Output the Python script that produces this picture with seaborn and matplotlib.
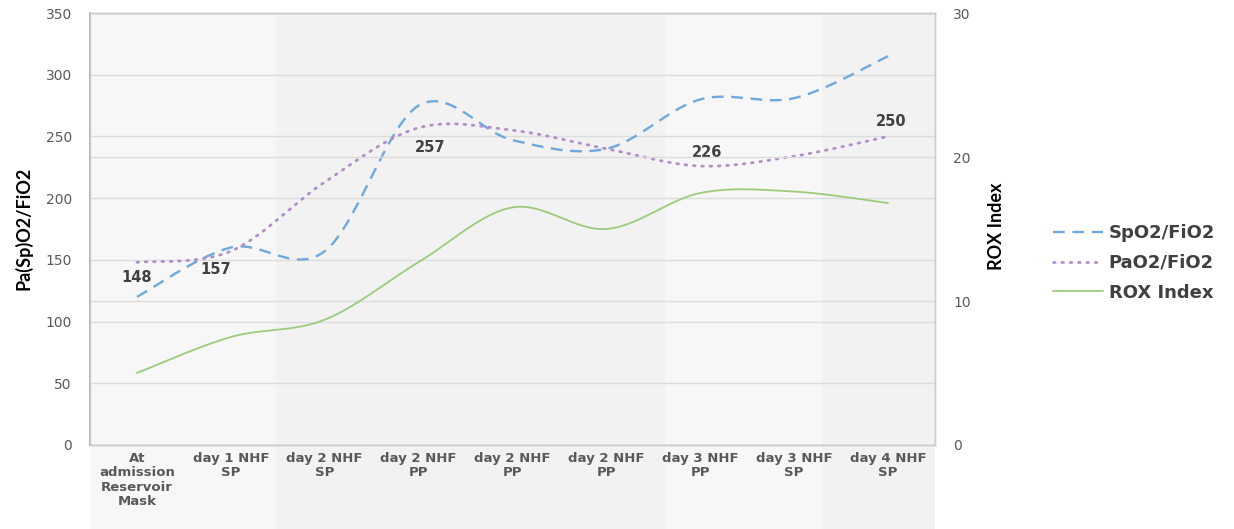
import numpy as np
import seaborn as sns
import matplotlib.pyplot as plt
from matplotlib.patches import Rectangle

# data
categories = ['At\nadmission\nReservoir\nMask', 'day 1 NHF\nSP', 'day 2 NHF\nSP',
              'day 2 NHF\nPP', 'day 2 NHF\nPP', 'day 2 NHF\nPP', 'day 3 NHF\nPP',
              'day 3 NHF\nSP', 'day 4 NHF\nSP']
spo2_fio2 = [120, 160, 157, 275, 247, 240, 280, 281, 315]
pao2_fio2 = [148, 157, 213, 257, 255, 240, 226, 234, 250]
rox_index = [5.0, 7.5, 8.7, 12.7, 16.5, 15.0, 17.5, 17.6, 16.8]
label_idx = [0, 1, 3, 6, 8]  # points with a value label on PaO2/FiO2
label_off = [(0, -11), (-11, -13), (8, -14), (5, 10), (2, 11)]

left_ticks = [0, 50, 100, 150, 200, 250, 300, 350]
right_ticks = [0, 10, 20, 30]


def smooth(vals, n=30):
    # excel-like smoothed line (catmull-rom bezier)
    p = np.column_stack([np.arange(len(vals)), vals]).astype(float)
    p = np.vstack([p[0], p, p[-1]])
    xs, ys = [], []
    t = np.linspace(0, 1, n)
    for i in range(1, len(p) - 2):
        a, b = p[i], p[i + 1]
        c1 = a + (p[i + 1] - p[i - 1]) / 6
        c2 = b - (p[i + 2] - p[i]) / 6
        seg = ((1 - t) ** 3)[:, None] * a + (3 * (1 - t) ** 2 * t)[:, None] * c1 \
            + (3 * (1 - t) * t ** 2)[:, None] * c2 + (t ** 3)[:, None] * b
        xs.extend(seg[:, 0]); ys.extend(seg[:, 1])
    return np.array(xs), np.array(ys)


sns.set_theme(style='white')
plt.rcParams['font.family'] = ['DejaVu Sans']

fig = plt.figure(figsize=(12.34, 5.29), dpi=100)
ax = fig.add_axes([0.0729, 0.1588, 0.6848, 0.8166])
ax.set_facecolor('none')
ax2 = ax.twinx()

# background bands (reach down under the x labels)
bands = [(0, 0.22, '#f7f7f7'), (0.22, 0.68, '#f2f2f2'), (0.68, 0.866, '#f7f7f7'), (0.866, 1, '#f2f2f2')]
for x0, x1, c in bands:
    ax.add_patch(Rectangle((x0, -0.195), x1 - x0, 1.195, transform=ax.transAxes,
                           facecolor=c, edgecolor='none', clip_on=False, zorder=-5))

xs, ys = smooth(spo2_fio2)
sns.lineplot(x=xs, y=ys, ax=ax, sort=False, estimator=None, color='#6fa8dc',
             lw=1.7, label='SpO2/FiO2', zorder=3)
ax.lines[-1].set_dashes([5, 3.2])
xs, ys = smooth(pao2_fio2)
sns.lineplot(x=xs, y=ys, ax=ax, sort=False, estimator=None, color='#b28fc9',
             lw=2.0, label='PaO2/FiO2', zorder=3)
ax.lines[-1].set_dashes([0.6, 2.4])
ax.lines[-1].set_dash_capstyle('round')
xs, ys = smooth(rox_index)
sns.lineplot(x=xs, y=ys, ax=ax2, sort=False, estimator=None, color='#9ccb7c',
             lw=1.3, label='ROX Index', zorder=3)

for i, (dx, dy) in zip(label_idx, label_off):
    ax.annotate(str(pao2_fio2[i]), (i, pao2_fio2[i]), xytext=(dx, dy),
                textcoords='offset points', ha='center', va='center',
                fontsize=10.5, fontweight='bold', color='#404040', zorder=5)

ax.set_xlim(-0.5, len(categories) - 0.5)
ax.set_ylim(0, 350)
ax2.set_ylim(0, 30)
ax.set_xticks(range(len(categories)))
ax.set_xticklabels(categories, fontsize=9.5, fontweight='bold', color='#595959',
                   linespacing=1.15)
ax.set_yticks(left_ticks)
ax.set_yticklabels([str(v) for v in left_ticks], fontsize=10, color='#595959')
ax2.set_yticks(right_ticks)
ax2.set_yticklabels([str(v) for v in right_ticks], fontsize=10, color='#595959')
ax.tick_params(axis='y', length=0, pad=13)
ax.tick_params(axis='x', length=0, pad=5)
ax2.tick_params(axis='y', length=0, pad=13)

ax.set_axisbelow(True)
ax.grid(axis='y', color='#dcdcdc', lw=1)
ax2.grid(axis='y', color='#dcdcdc', lw=1)
ax.grid(axis='x', visible=False)
for a in (ax, ax2):
    for s in a.spines.values():
        s.set_color('#cccccc')
        s.set_linewidth(1)
ax.spines['left'].set_color('#b0b0b0')
ax.spines['left'].set_linewidth(1.4)

ax.set_ylabel('Pa(Sp)O2/FiO2', fontsize=13, family='Lato', fontweight='bold', color='black')
ax.yaxis.set_label_coords(-0.068, 0.502)
ax2.set_ylabel('ROX Index', fontsize=13, family='Lato', fontweight='bold', color='black')
ax2.yaxis.set_label_coords(1.063, 0.507)

handles = ax.get_lines()[:2] + ax2.get_lines()[:1]
for a in (ax, ax2):
    if a.get_legend():
        a.get_legend().remove()
fig.legend(handles, ['SpO2/FiO2', 'PaO2/FiO2', 'ROX Index'], loc='center left',
           bbox_to_anchor=(0.84, 0.503), frameon=False,
           prop={'weight': 'bold', 'size': 13}, labelcolor='#404040',
           handlelength=2.8, handletextpad=0.3, labelspacing=0.65)

fig.savefig('out.png', dpi=100, facecolor='white')
